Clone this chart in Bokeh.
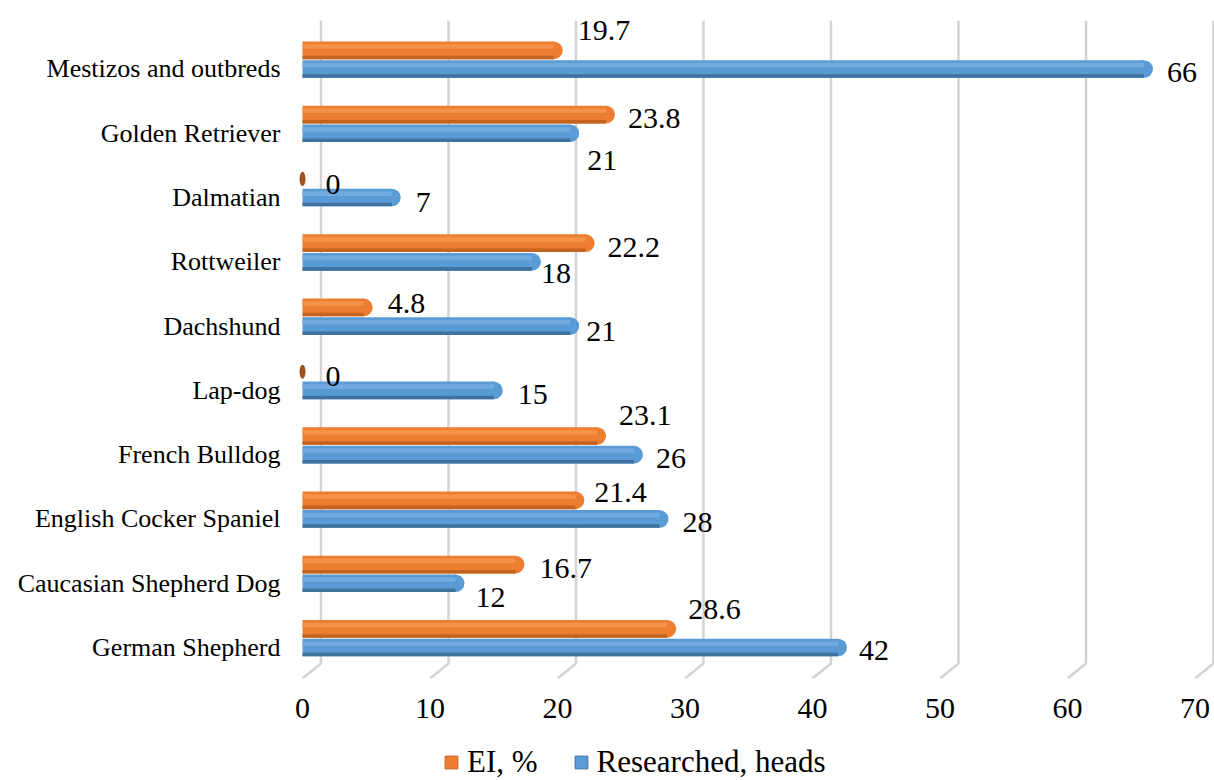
import numpy as np
from bokeh.plotting import figure
from bokeh.layouts import column
from bokeh.models import ColumnDataSource, Range1d, FixedTicker, Legend, LegendItem
from bokeh.core.properties import value
from bokeh.embed import file_html
from bokeh.resources import INLINE

# ---------------- data (bottom to top) ----------------
categories = [
    "German Shepherd",
    "Caucasian Shepherd Dog",
    "English Cocker Spaniel",
    "French Bulldog",
    "Lap-dog",
    "Dachshund",
    "Rottweiler",
    "Dalmatian",
    "Golden Retriever",
    "Mestizos and outbreds",
]
ei_percent = [28.6, 16.7, 21.4, 23.1, 0, 4.8, 22.2, 0, 23.8, 19.7]
researched_heads = [42, 12, 28, 26, 15, 21, 18, 7, 21, 66]
x_ticks = [0, 10, 20, 30, 40, 50, 60, 70]
series_names = ["EI, %", "Researched, heads"]

# ---------------- label placement nudges (screen px) ----------------
ei_label_dx = [-1, 2, -3, 0, 1, 2, 0, 1, 0, 2]
ei_label_dy = [-19, 4, -8, -21, 5, -4, 4, 6, 4, -20]
rh_label_dx = [-1, -2, 1, 0, 2, -6, -13, 2, -5, 1]
rh_label_dy = [3, 14, 4, 4, 4, 5, 12, 5, 27, 4]

# ---------------- styles ----------------
FONT = "'Liberation Serif', 'Times New Roman', serif"
BAR_H = 0.275
ORANGE_SHIFT = 0.29
BASE_LABEL_DX = 22
CAP_W = 18
ZERO_CAP_W = 6
GRID_BACK = 1.45       # depth offset of back wall (x units)
GRID_BREAK = -0.249    # y where grid turns towards the front
orange = dict(base="#ED7D31", light="#F5924A", dark="#C4621F", zero="#A0521E")
blue = dict(base="#5B9BD5", light="#72ABE2", dark="#40729F", zero="#2F5F8F")

y_min, y_max = -0.482, 9.754
x_min, x_max = -0.941, 71.53

p = figure(
    frame_width=924, frame_height=658,
    min_border_left=290, min_border_right=0, min_border_top=20, min_border_bottom=64,
    x_range=Range1d(x_min, x_max), y_range=Range1d(y_min, y_max),
    output_backend="svg", toolbar_location=None,
    background_fill_color="white", border_fill_color="white",
)
p.outline_line_color = None
p.grid.visible = False

# 3D-like gridlines (back wall + floor diagonal)
gx = [[t + GRID_BACK, t + GRID_BACK, t] for t in x_ticks]
gy = [[y_max, GRID_BREAK, y_min] for _ in x_ticks]
p.multi_line(gx, gy, line_color="#D3D3D3", line_width=2.5)

idx = np.arange(len(categories), dtype=float)


def draw_series(vals, ypos, col, dxs, dys):
    vals = np.asarray(vals, dtype=float)
    zero = vals == 0
    src = ColumnDataSource(dict(
        y=ypos, v=vals,
        y_hi=ypos + 0.06, y_lo=ypos - 0.11,
        cap_w=np.where(zero, ZERO_CAP_W, CAP_W),
        cap_h=np.where(zero, 0.22, BAR_H),
        cap_c=np.where(zero, col["zero"], col["base"]),
        label=[f"{v:g}" for v in vals],
        xo=[BASE_LABEL_DX + d for d in dxs],
        yo=list(dys),
    ))
    p.ellipse(x="v", y="y", width="cap_w", height="cap_h", width_units="screen",
              height_units="data", source=src, fill_color="cap_c", line_color=None)
    p.hbar(y="y", left=0, right="v", height=BAR_H, source=src,
           fill_color=col["base"], line_color=None)
    p.hbar(y="y_hi", left=0, right="v", height=0.07, source=src,
           fill_color=col["light"], line_color=None)
    p.hbar(y="y_lo", left=0, right="v", height=0.055, source=src,
           fill_color=col["dark"], line_color=None)
    p.text(x="v", y="y", text="label", x_offset="xo", y_offset="yo", source=src,
           text_align="left", text_baseline="middle", text_font=value(FONT),
           text_font_size="30px", text_color="black")


draw_series(researched_heads, idx, blue, rh_label_dx, rh_label_dy)
draw_series(ei_percent, idx + ORANGE_SHIFT, orange, ei_label_dx, ei_label_dy)

# axes
p.xaxis.ticker = FixedTicker(ticks=x_ticks)
p.xaxis.axis_line_color = None
p.xaxis.major_tick_line_color = None
p.xaxis.minor_tick_line_color = None
p.xaxis.major_tick_out = 0
p.xaxis.major_tick_in = 0
p.xaxis.axis_label_standoff = 0
p.xaxis.major_label_text_font = FONT
p.xaxis.major_label_text_font_size = "30px"
p.xaxis.major_label_text_color = "black"
p.xaxis.major_label_standoff = 20

p.yaxis.ticker = FixedTicker(ticks=list(range(len(categories))))
p.yaxis.major_label_overrides = {i: c for i, c in enumerate(categories)}
p.yaxis.axis_line_color = None
p.yaxis.major_tick_line_color = None
p.yaxis.minor_tick_line_color = None
p.yaxis.major_tick_out = 0
p.yaxis.major_tick_in = 0
p.yaxis.major_label_text_font = FONT
p.yaxis.major_label_text_font_size = "26px"
p.yaxis.major_label_text_color = "black"
p.yaxis.major_label_standoff = 10

# ---------------- legend strip (separate small figure) ----------------
lg = figure(
    width=1214, height=38, min_border=0,
    x_range=Range1d(0, 1), y_range=Range1d(0, 1),
    x_axis_location=None, y_axis_location=None,
    output_backend="svg", toolbar_location=None,
    background_fill_color="white", border_fill_color="white",
)
lg.outline_line_color = None
lg.grid.visible = False
r_ei = lg.hbar(y=[-5], left=[0], right=[1], height=1,
               fill_color=orange["base"], line_color=orange["dark"])
r_rh = lg.hbar(y=[-5], left=[0], right=[1], height=1,
               fill_color=blue["base"], line_color=blue["dark"])
legend = Legend(
    items=[LegendItem(label=series_names[0], renderers=[r_ei]),
           LegendItem(label=series_names[1], renderers=[r_rh])],
    location=(153, 0), orientation="horizontal",
    glyph_width=16, glyph_height=16, label_standoff=8, spacing=35,
    padding=0, margin=0, border_line_color=None, background_fill_alpha=0,
    label_text_font=FONT, label_text_font_size="31px", label_text_color="black",
)
lg.add_layout(legend, "center")

layout = column(p, lg, spacing=0)
open("out.html", "w").write(file_html(layout, INLINE))
